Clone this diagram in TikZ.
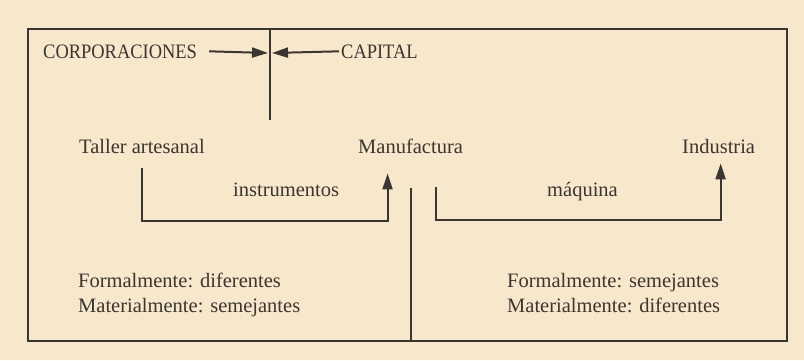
\documentclass[tikz,border=0pt]{standalone}
\usepackage{fontspec}
\setmainfont{Liberation Serif}
\usetikzlibrary{arrows.meta,calc}
\definecolor{paper}{HTML}{F7E7CB}
\definecolor{ink}{HTML}{3A3631}
\tikzset{
  lbl/.style={inner sep=0pt, anchor=base west, text=ink, font=\fontsize{20.5}{24}\selectfont},
  frame/.style={draw=ink, line width=2pt},
  conn/.style={draw=ink, line width=2pt, -{Triangle[length=16pt,width=10pt]}},
  plain/.style={draw=ink, line width=2pt}
}
\begin{document}
\begin{tikzpicture}[x=1pt,y=-1pt]
\fill[paper] (0,0) rectangle (804,360);
\useasboundingbox (0,0) rectangle (804,360);
% frame
\coordinate (tl) at (28,29);
\coordinate (br) at (787,341);
\draw[frame] (tl) rectangle (br);
\coordinate (divtop) at (270,29);
\coordinate (divbot) at (270,120);
\draw[plain] (divtop) -- (divbot);
% labels
\node[lbl] (corp) at (43,58) {\scalebox{0.9}[1]{CORPORACIONES}};
\node[lbl] (cap) at (341,58) {\scalebox{0.9}[1]{CAPITAL}};
\node[lbl] (taller) at (79,153) {Taller artesanal};
\node[lbl] (manu) at (358,153) {Manufactura};
\node[lbl] (ind) at (682,153) {Industria};
\node[lbl] (instr) at (233,196) {instrumentos};
\node[lbl] (maq) at (547,196) {máquina};
\node[lbl] (fl1) at (78,287) {Formalmente: diferentes};
\node[lbl] (fl2) at (78,312) {Materialmente: semejantes};
\node[lbl] (fr1) at (507,287) {Formalmente: semejantes};
\node[lbl] (fr2) at (507,312) {Materialmente: diferentes};
% top arrows
\coordinate (divmid) at (270,53);
\draw[conn] ($(corp.east)+(12,0)$) -- ($(divmid)+(-2,0)$);
\draw[conn] ($(cap.west)+(-2,0)$) -- ($(divmid)+(2,0)$);
% connectors
\draw[conn] ($(taller.south)+(0,15)$) |- ($(manu.south)+(-23,68)$) -- ($(manu.south)+(-23,20)$);
\draw[plain] ($(manu.south)+(0,35)$) -- ($(manu.south |- br)$);
\draw[conn] ($(manu.south)+(25,34)$) |- ($(ind.south)+(2,67)$) -- ($(ind.south)+(2,10)$);
\end{tikzpicture}
\end{document}
